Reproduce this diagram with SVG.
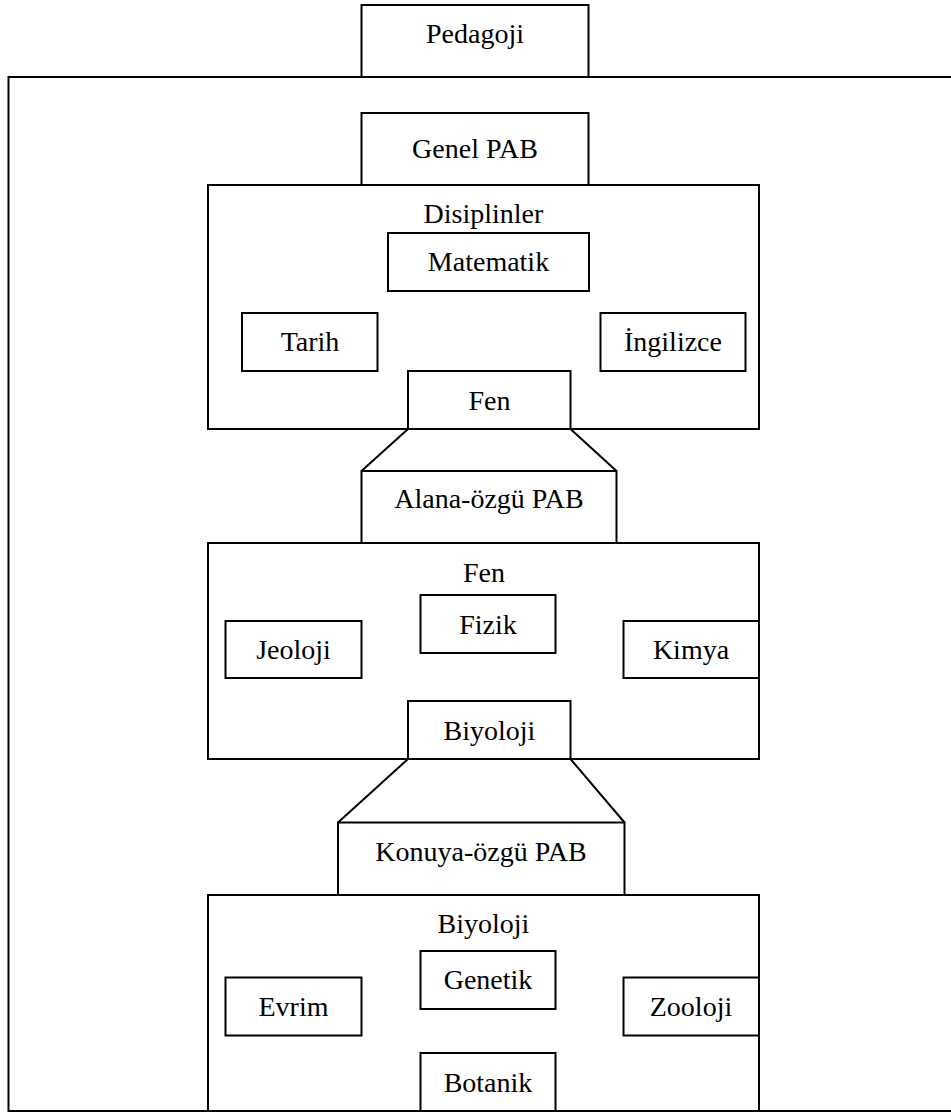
<svg xmlns="http://www.w3.org/2000/svg" width="951" height="1113" viewBox="0 0 951 1113">
  <style>
    rect { fill: #fff; stroke: #000; stroke-width: 2; }
    .link { fill: none; stroke: #000; stroke-width: 2; }
    text { font-family: "Liberation Serif", "Times New Roman", serif; font-size: 28px; fill: #000; text-anchor: middle; }
  </style>
  <rect width="951" height="1113" style="stroke:none"/>

  <!-- outer frame: pedagogy, open to the right -->
  <g id="frame"><rect x="8.5" y="77" width="960" height="1034"/></g>

  <g id="pedagoji"><rect x="361.5" y="5" width="227" height="72"/><text x="475" y="43">Pedagoji</text></g>
  <g id="genel-pab"><rect x="361.5" y="113" width="227" height="72"/><text x="475" y="158">Genel PAB</text></g>

  <!-- disciplines -->
  <g id="disiplinler"><rect x="208" y="185" width="551" height="244"/><text x="483.5" y="223">Disiplinler</text></g>
  <g id="matematik"><rect x="388" y="233" width="201" height="58"/><text x="488.5" y="271">Matematik</text></g>
  <g id="tarih"><rect x="242" y="313" width="135.5" height="58"/><text x="310" y="351">Tarih</text></g>
  <g id="ingilizce"><rect x="600.5" y="313" width="145" height="58"/><text x="673" y="351">İngilizce</text></g>
  <g id="fen-d"><rect x="408" y="371" width="162.5" height="58"/><text x="489.5" y="410">Fen</text></g>

  <g id="connectors">
    <path class="link" d="M408 429 L361.5 471 M570.5 429 L616.5 471"/>
    <path class="link" d="M408 759 L338 822.5 M570.5 759 L624.5 822.5"/>
  </g>

  <g id="alana-pab"><rect x="361.5" y="471" width="255" height="72"/><text x="489" y="508">Alana-özgü PAB</text></g>

  <!-- science -->
  <g id="fen"><rect x="208" y="543" width="551" height="216"/><text x="484" y="582">Fen</text></g>
  <g id="fizik"><rect x="420.5" y="595" width="135" height="58"/><text x="488" y="634">Fizik</text></g>
  <g id="jeoloji"><rect x="225.5" y="621" width="136" height="57"/><text x="293.5" y="659">Jeoloji</text></g>
  <g id="kimya"><rect x="623.5" y="621" width="135.5" height="57"/><text x="691" y="659">Kimya</text></g>
  <g id="biyoloji-f"><rect x="408" y="701" width="162.5" height="58"/><text x="489.5" y="740">Biyoloji</text></g>

  <g id="konuya-pab"><rect x="338" y="822.5" width="286.5" height="72.5"/><text x="481" y="861">Konuya-özgü PAB</text></g>

  <!-- biology -->
  <g id="biyoloji"><rect x="208" y="895" width="551" height="216"/><text x="483.5" y="933">Biyoloji</text></g>
  <g id="genetik"><rect x="420.5" y="951" width="135" height="58"/><text x="488" y="989">Genetik</text></g>
  <g id="evrim"><rect x="225.5" y="977.5" width="136" height="58"/><text x="293.5" y="1016">Evrim</text></g>
  <g id="zooloji"><rect x="623.5" y="977.5" width="135.5" height="58"/><text x="691" y="1016">Zooloji</text></g>
  <g id="botanik"><rect x="420.5" y="1053" width="135" height="58"/><text x="488" y="1092">Botanik</text></g>
</svg>
